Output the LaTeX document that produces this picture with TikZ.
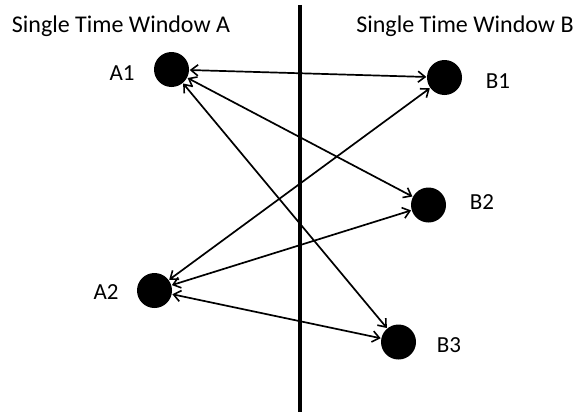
\documentclass[tikz,border=0pt]{standalone}
\usepackage{fontspec}
\setmainfont{Carlito}
\usetikzlibrary{arrows.meta}
\begin{document}
\begin{tikzpicture}[x=1pt,y=-1pt,
  dot/.style={circle,fill=black,inner sep=0pt,minimum size=35pt},
  title/.style={font=\fontsize{24}{28}\selectfont,inner sep=0pt,anchor=base},
  lbl/.style={font=\fontsize{23}{27}\selectfont,inner sep=0pt},
  tip/.style={Straight Barb[length=7pt,width=11pt,line width=1.6pt]},
  link/.style={line width=1.7pt,{Straight Barb[length=7pt,width=11pt,line width=1.6pt]}-{Straight Barb[length=7pt,width=11pt,line width=1.6pt]},shorten <=0.5pt,shorten >=0.5pt}]
  \useasboundingbox (0,0) rectangle (577,412);
  % separator between the two windows
  \coordinate (top) at (300,5);
  \coordinate (bot) at (300,412);
  \draw[line width=4pt] (top) -- (bot);
  % window titles
  \node[title] (tA) at (121,33) {Single Time Window A};
  \node[title] (tB) at (465,33) {Single Time Window B};
  % events
  \node[dot] (A1) at (171.5,69.5) {};
  \node[dot] (A2) at (154.5,290.5) {};
  \node[dot] (B1) at (444.5,77.5) {};
  \node[dot] (B2) at (428.5,205) {};
  \node[dot] (B3) at (398.5,342) {};
  % event labels
  \node[lbl] (lA1) at (122,73) {A1};
  \node[lbl] (lA2) at (106,292) {A2};
  \node[lbl] (lB1) at (498,81) {B1};
  \node[lbl] (lB2) at (482,202) {B2};
  \node[lbl] (lB3) at (449,345) {B3};
  % links
  \draw[link] (A1) -- (B1);
  \draw[link] (A1) -- (B2);
  \draw[link] (A1) -- (B3);
  \draw[link] (A2) -- (B1);
  \draw[link] (A2) -- (B2);
  \draw[link] (A2) -- (B3);
\end{tikzpicture}
\end{document}
